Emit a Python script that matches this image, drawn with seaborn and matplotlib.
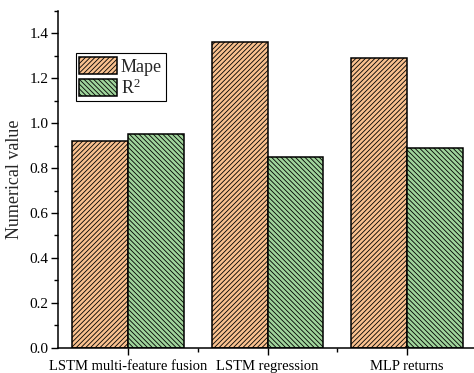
import matplotlib
matplotlib.use("Agg")
import matplotlib.pyplot as plt
from matplotlib.ticker import MultipleLocator, FixedLocator, FormatStrFormatter
import seaborn as sns
import pandas as pd

# Model comparison data
models = ["LSTM multi-feature fusion", "LSTM regression", "MLP returns"]
mape = [0.92, 1.36, 1.29]
r2 = [0.95, 0.85, 0.89]
metrics = ["Mape", "R$^{2}$"]
colors = ["#F9C18F", "#9FD49B"]
hatches = ["/" * 7, "\\" * 7]

df = pd.DataFrame({
    "model": models * 2,
    "metric": [metrics[0]] * len(models) + [metrics[1]] * len(models),
    "value": mape + r2,
})

sns.set_style("ticks")
plt.rcParams["font.family"] = ["Liberation Serif", "DejaVu Serif"]
plt.rcParams["mathtext.fontset"] = "custom"
plt.rcParams["mathtext.rm"] = "Liberation Serif"
plt.rcParams["mathtext.it"] = "Liberation Serif:italic"
plt.rcParams["hatch.color"] = "black"
plt.rcParams["hatch.linewidth"] = 0.6

fig = plt.figure(figsize=(4.74, 3.73), dpi=100)
ax = fig.add_axes([58.25 / 474, 25.3 / 373, 418.5 / 474, 336.7 / 373])

sns.barplot(data=df, x="model", y="value", hue="metric", order=models,
            hue_order=metrics, palette=colors, width=0.8, gap=0,
            edgecolor="black", linewidth=1.1, saturation=1, ax=ax,
            legend=False)

for cont, h in zip(ax.containers, hatches):
    for p in cont.patches:
        p.set_hatch(h)

ax.set_xlim(-0.5, 2.5)
ax.set_ylim(0, 1.5)
ax.yaxis.set_major_locator(MultipleLocator(0.2))
ax.yaxis.set_minor_locator(MultipleLocator(0.1))
ax.xaxis.set_minor_locator(FixedLocator([0.5, 1.5]))
ax.yaxis.set_major_formatter(FormatStrFormatter("%.1f"))

sns.despine(ax=ax)
for s in ["left", "bottom"]:
    ax.spines[s].set_linewidth(1.1)
    ax.spines[s].set_color("black")

ax.tick_params(axis="both", which="major", direction="out", length=5,
               width=1.0, colors="black", pad=2)
ax.tick_params(axis="y", which="major", labelsize=11)
ax.tick_params(axis="x", which="major", labelsize=10.5, pad=4)
ax.tick_params(axis="both", which="minor", direction="out", length=3,
               width=1.0, colors="black")
ax.set_xlabel("")
ax.set_ylabel("Numerical value", fontsize=13, labelpad=5)

leg = ax.legend(handles=list(ax.containers), labels=metrics,
                loc="upper left", bbox_to_anchor=(0.042, 0.875),
                fontsize=13, frameon=True, fancybox=False, framealpha=1,
                edgecolor="black", handlelength=2.1, handleheight=1.1,
                handletextpad=0.2, labelspacing=0.15, borderpad=0.2,
                borderaxespad=0)
leg.get_frame().set_linewidth(0.8)

fig.savefig("out.png", dpi=100)
